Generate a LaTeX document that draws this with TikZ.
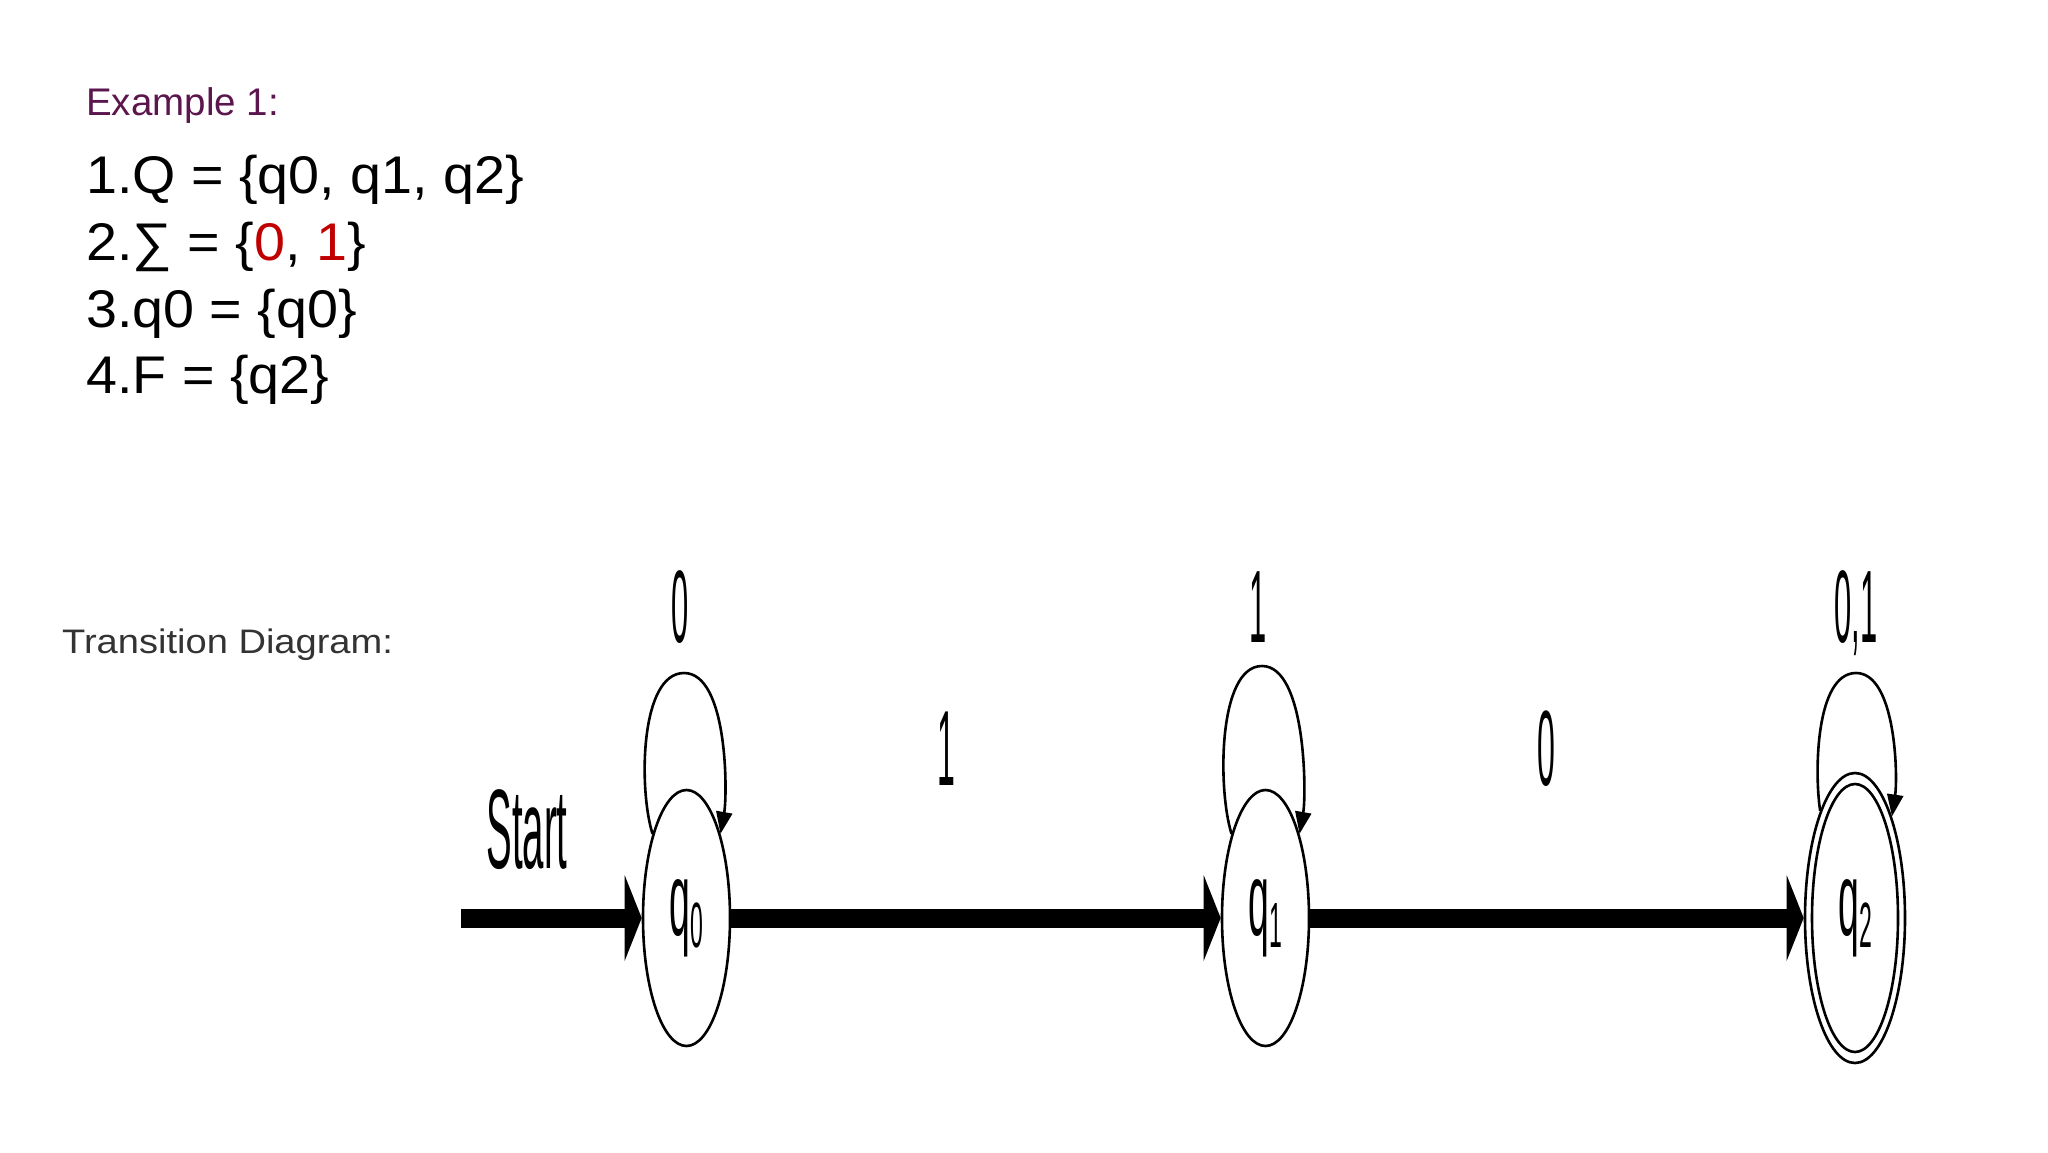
\documentclass[tikz,border=0pt]{standalone}
\usepackage{fontspec}
\setmainfont{Liberation Sans}
\newfontfamily\stretchA[FakeStretch=1.05]{Liberation Sans}
\newfontfamily\stretchB[FakeStretch=1.12]{Liberation Sans}
\usepackage{graphicx}
\usetikzlibrary{shapes.geometric,arrows.meta}
\definecolor{exmag}{RGB}{92,22,78}
\definecolor{sigred}{RGB}{192,0,0}
\definecolor{tdgray}{RGB}{51,51,51}
\newcommand{\narrowtxt}[3]{\scalebox{#1}[1]{\fontsize{#2}{#2}\selectfont #3}}
\newcommand{\qlab}[1]{\narrowtxt{0.36}{104}{q\raisebox{-12pt}{\fontsize{64}{64}\selectfont #1}}}
\begin{document}
\begin{tikzpicture}[x=1pt,y=-1pt,
  state/.style={ellipse, draw, line width=2.6pt, inner sep=0pt, minimum width=87pt, minimum height=256pt},
  bigarrow/.style={line width=19pt, -{Triangle[length=17pt,width=85pt]}},
  loopline/.style={line width=2.6pt, -{Triangle[length=22pt,width=16pt]}},
  txt/.style={anchor=base west, inner sep=0pt},
  listline/.style={txt, font=\stretchA\fontsize{53}{53}\selectfont},
  dlabel/.style={anchor=base, inner sep=0pt}]
\useasboundingbox (0,0) rectangle (2048,1152);

% texts
\node[txt, font=\fontsize{38.5}{38.5}\selectfont, text=exmag] (ex) at (86,115) {Example 1:};
\node[listline] (l1) at (86,193) {1.Q = \{q0, q1, q2\}};
\node[listline] (l2) at (86,260) {2.∑ = \{\textcolor{sigred}{0}, \textcolor{sigred}{1}\}};
\node[listline] (l3) at (86,327) {3.q0 = \{q0\}};
\node[listline] (l4) at (86,393) {4.F = \{q2\}};
\node[txt, font=\stretchB\fontsize{34}{34}\selectfont, text=tdgray] (td) at (62,653) {Transition Diagram:};

% states
\node[state] (q0) at (686.5,918) {\qlab{0}};
\node[state] (q1) at (1265.5,918) {\qlab{1}};
\node[state, minimum width=100pt, minimum height=290pt] (q2) at (1855,918) {\qlab{2}};
\draw[line width=2.6pt] (q2.center) ellipse [x radius=43, y radius=134];

% transitions
\coordinate (st) at (461,918);
\draw[bigarrow] (st) -- (q0.west);
\draw[bigarrow] (q0.east) -- (q1.west);
\draw[bigarrow] (q1.east) -- (q2.west);

% loops
\coordinate (t0) at (684,673);
\coordinate (t1) at (1262,666);
\coordinate (t2) at (1856,673);
\draw[loopline] (q0.112) .. controls +(-14,-45) and +(-44,0) .. (t0) .. controls +(44,0) and +(7,-40) .. (q0.68);
\draw[loopline] (q1.112) .. controls +(-14,-45) and +(-44,0) .. (t1) .. controls +(44,0) and +(7,-40) .. (q1.68);
\draw[loopline] (q2.108) .. controls +(-6,-40) and +(-40,0) .. (t2) .. controls +(40,0) and +(6,-40) .. (q2.70);

% labels
\node[dlabel] (lab0) at (680,642) {\narrowtxt{0.3}{103}{0}};
\node[dlabel] (lab1) at (1258,642) {\narrowtxt{0.3}{103}{1}};
\node[dlabel] (lab2) at (1856,642) {\narrowtxt{0.3}{103}{0,1}};
\node[dlabel] (e01) at (946,785) {\narrowtxt{0.3}{107}{1}};
\node[dlabel] (e12) at (1546,785) {\narrowtxt{0.3}{107}{0}};
\node[dlabel] (start) at (527,868) {\narrowtxt{0.34}{113}{Start}};
\end{tikzpicture}
\end{document}
